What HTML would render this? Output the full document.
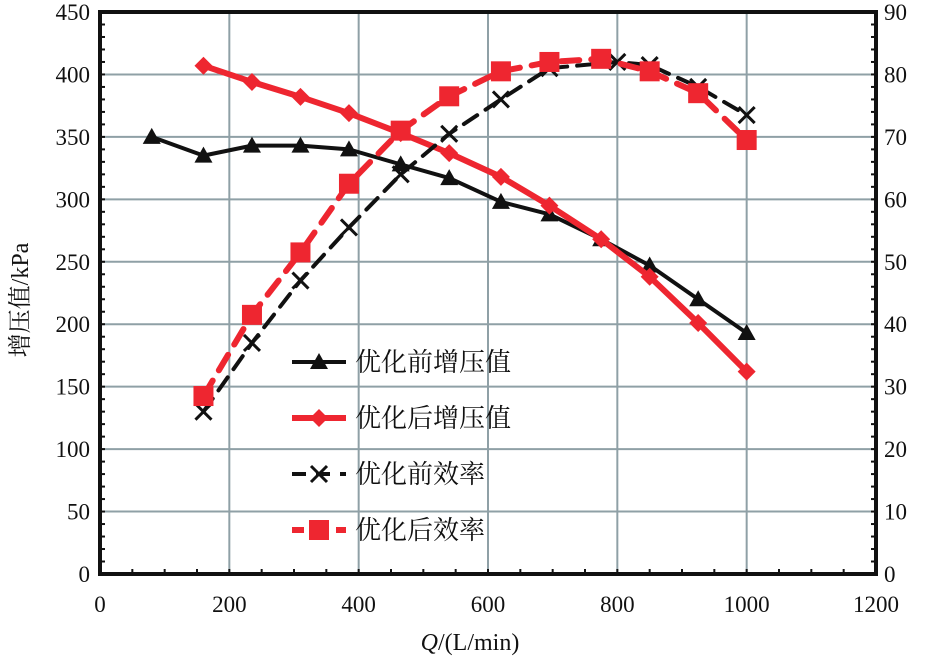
<!DOCTYPE html>
<html><head><meta charset="utf-8"><style>
body{margin:0;background:#fff}
svg text{font-family:"Liberation Serif","Noto Serif CJK SC",serif;fill:#111}
</style></head><body>
<svg id="c" width="949" height="659" xmlns="http://www.w3.org/2000/svg"></svg>
<script>
const xTicks=[0,200,400,600,800,1000,1200];
const yTicks=[0,50,100,150,200,250,300,350,400,450];
const y2Ticks=[0,10,20,30,40,50,60,70,80,90];
const qBefore=[80,160,235,310,385,465,540,620,695,775,850,925,1000];
const pBefore=[350,335,343,343,340,328,317,298,288,268,247,220,193];
const qAfter=[160,235,310,385,465,540,620,695,775,850,925,1000];
const pAfter=[407,394,382,369,353,337,318,295,268,238,201,162];
const qEffB=[160,235,310,385,465,540,620,695,800,850,925,1000];
const effBefore=[26,37,47,55.5,64,70.5,76,81,82,81.5,78,73.5];
const qEffA=[160,235,310,385,465,540,620,695,775,850,925,1000];
const effAfter=[28.5,41.5,51.5,62.5,71,76.5,80.5,82,82.5,80.5,77,69.5];
const L=100,R=876,T=12,B=574;
const X=v=>L+v/1200*(R-L), Y=v=>B-v/450*(B-T), Y2=v=>B-v/90*(B-T);
const svg=document.getElementById('c');const NS='http://www.w3.org/2000/svg';
function el(t,a,p){const e=document.createElementNS(NS,t);for(const k in a)e.setAttribute(k,a[k]);(p||svg).appendChild(e);return e;}
function tx(s,a){const e=el('text',a);e.textContent=s;return e;}
const grid=el('g',{});


xTicks.forEach(v=>el('line',{x1:X(v),x2:X(v),y1:T,y2:B,stroke:'#8fa0a6','stroke-width':2},grid));
yTicks.forEach(v=>el('line',{x1:L,x2:R,y1:Y(v),y2:Y(v),stroke:'#8fa0a6','stroke-width':2},grid));
for(let v=0;v<=1200;v+=50){el('line',{x1:X(v),x2:X(v),y1:B,y2:B-5,stroke:'#111','stroke-width':2});}
for(let v=0;v<=450;v+=10){el('line',{x1:L,x2:L+5,y1:Y(v),y2:Y(v),stroke:'#111','stroke-width':2});el('line',{x1:R,x2:R-5,y1:Y(v),y2:Y(v),stroke:'#111','stroke-width':2});}
const frame=el('rect',{x:L,y:T,width:R-L,height:B-T,fill:'none',stroke:'#111','stroke-width':4});


xTicks.forEach(v=>{const t=tx(v,{x:X(v),y:612,'text-anchor':'middle','font-size':23});});
yTicks.forEach(v=>{const t=tx(v,{x:L-10,y:Y(v)+8,'text-anchor':'end','font-size':23});});
y2Ticks.forEach(v=>{const t=tx(v,{x:R+8,y:Y2(v)+8,'font-size':23});});
const xt=tx('',{x:470,y:650,'text-anchor':'middle','font-size':24});
xt.innerHTML='<tspan font-style="italic">Q</tspan>/(L/min)';


const yt=tx('增压值/kPa',{x:0,y:0,'text-anchor':'middle','font-size':24,transform:'translate(28,300) rotate(-90)'});


function marker(g,type,x,y,c){
 if(type==='tri')el('polygon',{points:`${x},${y-9} ${x-9},${y+7} ${x+9},${y+7}`,fill:c},g);
 else if(type==='dia')el('polygon',{points:`${x},${y-9} ${x+9},${y} ${x},${y+9} ${x-9},${y}`,fill:c},g);
 else if(type==='sq')el('rect',{x:x-10,y:y-10,width:20,height:20,fill:c},g);
 else {el('path',{d:`M${x-8},${y-8}L${x+8},${y+8}M${x+8},${y-8}L${x-8},${y+8}`,stroke:c,'stroke-width':3},g);}
}
function series(name,qs,vs,yf,c,w,dash,type){
 const g=el('g',{});
 const pts=qs.map((q,i)=>X(q)+','+yf(vs[i])).join(' ');
 el('polyline',{points:pts,fill:'none',stroke:c,'stroke-width':w,'stroke-dasharray':dash||'none','stroke-linejoin':'round','stroke-linecap':'round'},g);
 qs.forEach((q,i)=>marker(g,type,X(q),yf(vs[i]),c));
}
series('series-before-pressure',qBefore,pBefore,Y,'#111',4,null,'tri');
series('series-after-pressure',qAfter,pAfter,Y,'#ee2630',6,null,'dia');
series('series-before-efficiency',qEffB,effBefore,Y2,'#111',4,'16,10','x');
series('series-after-efficiency',qEffA,effAfter,Y2,'#ee2630',6,'18,12','sq');
const leg=[['优化前增压值','#111',4,null,'tri'],['优化后增压值','#ee2630',6,null,'dia'],['优化前效率','#111',4,'14,10','x'],['优化后效率','#ee2630',6,'12,10','sq']];
leg.forEach((l,i)=>{const y=362+i*56;const g=el('g',{});
 el('line',{x1:292,x2:346,y1:y,y2:y,stroke:l[1],'stroke-width':l[2],'stroke-dasharray':l[3]||'none'},g);
 marker(g,l[4],319,y,l[1]);
 const t=el('text',{x:355,y:y+9,'font-size':26},g);t.textContent=l[0];});
</script>
</body></html>
